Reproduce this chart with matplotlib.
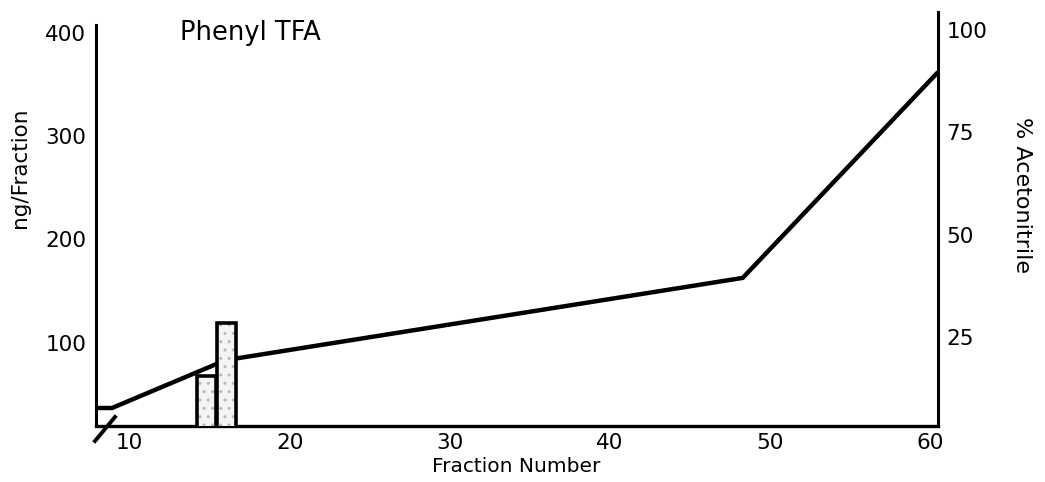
import matplotlib
matplotlib.use("Agg")
import matplotlib.pyplot as plt
from matplotlib.lines import Line2D

# ---- data ----
bar_fractions = [14.8, 16.05]        # fraction number (bar centres)
bar_ng = [68, 119]                   # ng/Fraction
grad_fraction = [7.9, 8.9, 16.0, 48.3, 60.5]
grad_acn = [7.6, 7.6, 19.3, 39.4, 89.7]   # % Acetonitrile
x_ticks = [10, 20, 30, 40, 50, 60]
left_ticks = [100, 200, 300, 400]
right_ticks = [25, 50, 75, 100]

W, H = 1045, 482
fig = plt.figure(figsize=(W / 100, H / 100), dpi=100)
L, R, B, T = 96, 938, 426, 12
ax = fig.add_axes([L / W, 1 - B / H, (R - L) / W, (B - T) / H])
ax2 = ax.twinx()

ax.set_xlim(7.9, 60.5)
ax.set_ylim(19.4, 420)
ax2.set_ylim(3.2, 104.4)

# gradient line (behind bars)
ax2.plot(grad_fraction, grad_acn, color="black", lw=3.2, solid_joinstyle="miter",
         solid_capstyle="butt", clip_on=False)

# bars on top of line
ax.set_zorder(ax2.get_zorder() + 1)
ax.patch.set_visible(False)
ax.bar(bar_fractions, bar_ng, width=1.2, color="#f4f4f4", edgecolor="#b8b8b8",
       hatch="..", lw=0, zorder=3)
ax.bar(bar_fractions, bar_ng, width=1.2, fill=False, edgecolor="black", lw=2.6,
       zorder=4)

# spines
for s in ["top"]:
    ax.spines[s].set_visible(False)
    ax2.spines[s].set_visible(False)
ax.spines["right"].set_visible(False)
ax2.spines["left"].set_visible(False)
ax2.spines["bottom"].set_visible(False)
ax.spines["left"].set_linewidth(2.2)
ax.spines["bottom"].set_linewidth(2.4)
ax2.spines["right"].set_linewidth(2.2)
ax.spines["left"].set_bounds(19.4, 407)

fs = 15.5
ax.set_xticks(x_ticks)
ax.set_xticklabels([str(v) for v in x_ticks], fontsize=fs)
ax.set_yticks(left_ticks)
ax.set_yticklabels([str(v) for v in left_ticks], fontsize=fs)
ax2.set_yticks(right_ticks)
ax2.set_yticklabels([str(v) for v in right_ticks], fontsize=fs)
ax.tick_params(axis="both", length=0)
ax.tick_params(axis="x", pad=5)
ax.tick_params(axis="y", pad=7)
ax2.tick_params(axis="y", length=0, pad=6)

# axis labels
fig.text(20 / W, 1 - 168 / H, "ng/Fraction", rotation=90, ha="center", va="center",
         fontsize=15.5)
fig.text(1022 / W, 1 - 195 / H, "% Acetonitrile", rotation=-90, ha="center",
         va="center", fontsize=16)
fig.text(516 / W, 1 - 466 / H, "Fraction Number", ha="center", va="center",
         fontsize=14.5)
fig.text(250 / W, 1 - 33 / H, "Phenyl TFA", ha="center", va="center", fontsize=18.5)

# axis break slash
fig.add_artist(Line2D([95 / W, 115 / W], [1 - 441 / H, 1 - 417 / H],
                      color="black", lw=2.8, transform=fig.transFigure))

fig.savefig("out.png", dpi=100)
